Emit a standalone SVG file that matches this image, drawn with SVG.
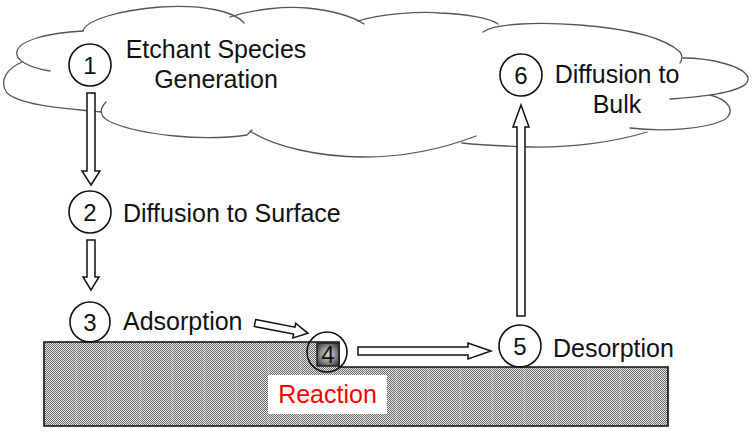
<svg xmlns="http://www.w3.org/2000/svg" width="753" height="433" viewBox="0 0 753 433">
<style>
.lbl{font-family:"Liberation Sans",Arial,sans-serif;font-size:25px;fill:#111}
.num{font-family:"Liberation Sans",Arial,sans-serif;font-size:24px;fill:#111;text-anchor:middle}
.ring{fill:none;stroke:#111;stroke-width:1.6}
.arrow{fill:#fff;stroke:#111;stroke-width:1.5;stroke-linejoin:miter}
.cloud{fill:none;stroke:#555;stroke-width:1.3;stroke-linecap:round}
</style>
<defs>
<pattern id="chk" width="2" height="2" patternUnits="userSpaceOnUse">
<rect width="2" height="2" fill="#e6e6e6"/>
<rect width="1" height="1" fill="#6a6a6a"/>
<rect x="1" y="1" width="1" height="1" fill="#6a6a6a"/>
</pattern>
<pattern id="vl" width="32" height="4" patternUnits="userSpaceOnUse" x="12">
<rect width="1" height="4" fill="#fff" fill-opacity="0.18"/>
</pattern>
<radialGradient id="sq" cx="0.5" cy="0.5" r="0.6">
<stop offset="0" stop-color="#d8d8d8"/>
<stop offset="0.55" stop-color="#909090"/>
<stop offset="1" stop-color="#404040"/>
</radialGradient>
</defs>
<rect width="753" height="433" fill="#fff"/>

<g id="cloud">
<path class="cloud" d="M50,71 C30,68 14,60 17,51 C20,41 45,33 83,31"/>
<path class="cloud" d="M83,31 C86,20 120,10 160,7 C205,4 235,12 244,23"/>
<path class="cloud" d="M230,17 C255,9 285,6 307,8 C330,10 352,16 364,24"/>
<path class="cloud" d="M358,21 C380,14 420,11 440,13 C465,14 490,18 498,24"/>
<path class="cloud" d="M483,32 C495,23 540,22 580,25 C630,29 665,38 680,52 C683,56 682,60 680,63"/>
<path class="cloud" d="M683,58 C710,58 745,66 748,78 C750,90 715,96 670,99"/>
<path class="cloud" d="M710,95 C730,100 736,112 724,120 C705,129 665,132 630,128"/>
<path class="cloud" d="M647,132 C615,142 570,148 530,147 C500,146 480,145 462,143"/>
<path class="cloud" d="M250,131 C275,147 320,157 363,157 C410,157 445,148 476,136"/>
<path class="cloud" d="M106,102 C98,110 100,118 113,123 C140,134 200,142 247,135 L252,130"/>
<path class="cloud" d="M22,62 C8,68 -2,80 7,93 C20,105 60,108 101,112"/>
</g>

<g id="substrate">
<path d="M44,342 H339 V367 H668 V426 H44 Z" fill="url(#chk)"/>
<path d="M44,342 H339 V367 H668 V426 H44 Z" fill="url(#vl)" stroke="#111" stroke-width="1.6"/>
</g>

<g id="reaction-label">
<rect x="268" y="375" width="119" height="39" fill="#fff"/>
<text x="327.5" y="403" font-family="Liberation Sans, Arial, sans-serif" font-size="25" fill="#ff0000" text-anchor="middle">Reaction</text>
</g>

<g id="connectors">
<polygon class="arrow" points="87,93 95,93 95,171 100,171 91,185 82,171 87,171"/>
<polygon class="arrow" points="87,240 95,240 95,277 99,277 91,290 83,277 87,277"/>
<polygon class="arrow" transform="translate(255,323) rotate(11)" points="0,-3.5 40,-3.5 40,-7.5 54,0 40,7.5 40,3.5 0,3.5"/>
<polygon class="arrow" points="358,347 468,347 468,343 491,351 468,359 468,355 358,355"/>
<polygon class="arrow" points="517,316 517,127 513,127 521,105 529,127 525,127 525,316"/>
</g>

<g id="node1">
<circle class="ring" cx="90" cy="65" r="21"/>
<text class="num" x="90" y="74">1</text>
<text class="lbl" x="216" y="58" text-anchor="middle">Etchant Species</text>
<text class="lbl" x="216" y="88" text-anchor="middle">Generation</text>
</g>

<g id="node2">
<circle class="ring" cx="90" cy="212" r="21"/>
<text class="num" x="90" y="221">2</text>
<text class="lbl" x="123" y="222">Diffusion to Surface</text>
</g>

<g id="node3">
<circle class="ring" cx="90" cy="322" r="20"/>
<text class="num" x="90" y="331">3</text>
<text class="lbl" x="123" y="330">Adsorption</text>
</g>

<g id="node4">
<rect x="317" y="343" width="22" height="23" fill="url(#sq)" stroke="#222" stroke-width="1.5"/>
<text class="num" x="328" y="363">4</text>
<circle class="ring" cx="327" cy="352" r="20"/>
</g>

<g id="node5">
<circle class="ring" cx="520" cy="346" r="21"/>
<text class="num" x="520" y="355">5</text>
<text class="lbl" x="553" y="357">Desorption</text>
</g>

<g id="node6">
<circle class="ring" cx="521" cy="75" r="21"/>
<text class="num" x="521" y="84">6</text>
<text class="lbl" x="617" y="83" text-anchor="middle">Diffusion to</text>
<text class="lbl" x="617" y="113" text-anchor="middle">Bulk</text>
</g>
</svg>
